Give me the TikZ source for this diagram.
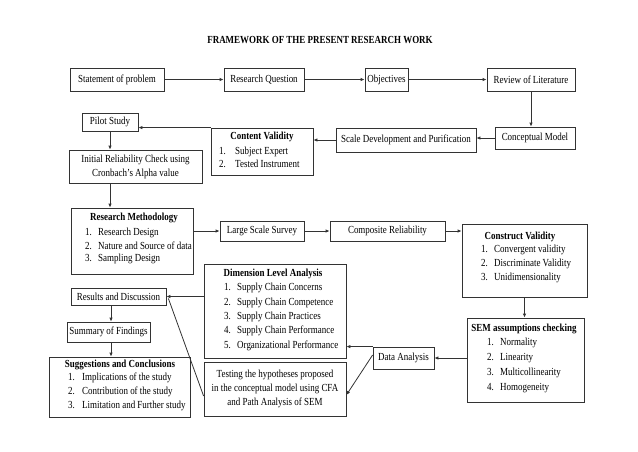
\documentclass[tikz,border=0pt]{standalone}
\usepackage{fontspec}
\setmainfont{Liberation Serif}[FakeStretch=0.83]
\usetikzlibrary{arrows.meta}
\newcommand{\bx}[6]{\node[bx, minimum width={(#4-#2)*1pt}, minimum height={(#5-#3)*1pt}] (#1) at ({(#2+#4)/2},{(#3+#5)/2}) {#6};}
\newcommand{\itm}[6]{\node[txt,anchor=west] (#1) at (#2,#3) {\makebox[#4pt][l]{#5}#6};}
\begin{document}
\begin{tikzpicture}[x=1pt,y=-1pt,
 bx/.style={draw=black!80, line width=0.8pt, inner sep=0pt, align=center, font=\fontsize{10.8}{14}\selectfont},
 txt/.style={inner sep=0pt, font=\fontsize{10.8}{13}\selectfont},
 hd/.style={inner sep=0pt, font=\bfseries\fontsize{10.8}{13}\selectfont},
 arr/.style={draw=black!80, line width=0.8pt, -{Latex[length=4pt,width=3.5pt]}},
 ln/.style={draw=black!80, line width=0.8pt}]
\useasboundingbox (0,0) rectangle (638,451);
\node[hd] (title) at (320,40) {FRAMEWORK OF THE PRESENT RESEARCH WORK};
% row 1
\bx{st}{70}{68}{164}{91}{Statement of problem}
\bx{rq}{224}{68}{304}{91}{Research Question}
\bx{ob}{365}{68}{408}{91}{Objectives}
\bx{rev}{487}{68}{575}{91}{Review of Literature}
% row 2
\bx{cm}{495}{127}{575}{149}{Conceptual Model}
\bx{sd}{336}{128}{476}{152}{Scale Development and Purification}
\bx{cv}{211}{128}{313}{175}{}
\node[hd] (cvh) at (262,137) {Content Validity};
\itm{cv1}{219}{152}{16}{1.}{Subject Expert}
\itm{cv2}{219}{164}{16}{2.}{Tested Instrument}
\bx{pilot}{82}{113}{138}{131}{Pilot Study}
\bx{init}{69}{150}{202}{183}{Initial Reliability Check using\\Cronbach’s Alpha value}
% row 3
\bx{rm}{71}{208}{193}{274}{}
\node[hd] (rmh) at (134,218) {Research Methodology};
\itm{rm1}{85}{233}{13}{1.}{Research Design}
\itm{rm2}{85}{246}{13}{2.}{Nature and Source of data}
\itm{rm3}{85}{259}{13}{3.}{Sampling Design}
\bx{lss}{220}{221}{304}{241}{Large Scale Survey}
\bx{cr}{330}{221}{445}{241}{Composite Reliability}
\bx{cons}{462}{224}{587}{297}{}
\node[hd] (consh) at (520,237) {Construct Validity};
\itm{cons1}{481}{250}{13}{1.}{Convergent validity}
\itm{cons2}{481}{264}{13}{2.}{Discriminate Validity}
\itm{cons3}{481}{278}{13}{3.}{Unidimensionality}
% lower part
\bx{sem}{467}{318}{584}{402}{}
\node[hd] (semh) at (524,329) {SEM assumptions checking};
\itm{sem1}{487}{343}{13}{1.}{Normality}
\itm{sem2}{487}{358}{13}{2.}{Linearity}
\itm{sem3}{487}{373}{13}{3.}{Multicollinearity}
\itm{sem4}{487}{388}{13}{4.}{Homogeneity}
\bx{da}{373}{347}{434}{369}{Data Analysis}
\bx{dim}{204}{264}{346}{358}{}
\node[hd] (dimh) at (273,274) {Dimension Level Analysis};
\itm{dim1}{224}{288}{13}{1.}{Supply Chain Concerns}
\itm{dim2}{224}{303}{13}{2.}{Supply Chain Competence}
\itm{dim3}{224}{317}{13}{3.}{Supply Chain Practices}
\itm{dim4}{224}{331}{13}{4.}{Supply Chain Performance}
\itm{dim5}{224}{346}{13}{5.}{Organizational Performance}
\bx{test}{204}{362}{346}{416}{Testing the hypotheses proposed\\in the conceptual model using CFA\\and Path Analysis of SEM}
\bx{res}{71}{288}{166}{305}{Results and Discussion}
\bx{sum}{67}{322}{150}{342}{Summary of Findings}
\bx{sug}{49}{357}{190}{417}{}
\node[hd] (sugh) at (120,365) {Suggestions and Conclusions};
\itm{sug1}{68}{378}{14}{1.}{Implications of the study}
\itm{sug2}{68}{392}{14}{2.}{Contribution of the study}
\itm{sug3}{68}{406}{14}{3.}{Limitation and Further study}
% connectors
\draw[arr] (st) -- (rq);
\draw[arr] (rq) -- (ob);
\draw[arr] (ob) -- (rev);
\draw[arr] (rev.south) -- (rev.south |- cm.north);
\draw[arr] (cm.west) -- (cm.west -| sd.east);
\draw[arr] (sd.west) -- (sd.west -| cv.east);
\draw[arr] (cv.north west) -- (cv.north west -| pilot.east);
\draw[arr] (pilot.south) -- (pilot.south |- init.north);
\draw[arr] (pilot.south |- init.south) -- (pilot.south |- rm.north);
\draw[arr] (lss.west -| rm.east) -- (lss.west);
\draw[arr] (lss) -- (cr);
\draw[arr] (cr.east) -- (cr.east -| cons.west);
\draw[arr] (cons.south) -- (cons.south |- sem.north);
\draw[arr] (da.east -| sem.west) -- (da.east);
\draw[arr] (da.north west) -- (da.north west -| dim.east);
\draw[arr] ([yshift=3pt]da.west) -- ([yshift=-6pt]test.east);
\draw[arr] (res.east -| dim.west) -- (res.east);
\draw[ln] ([yshift=-7pt]test.west) -- ([xshift=2pt,yshift=-2pt]res.east);
\coordinate (cx) at (111,0);
\draw[arr] (res.south -| cx) -- (sum.north -| cx);
\draw[arr] (sum.south -| cx) -- (sug.north -| cx);
\end{tikzpicture}
\end{document}
